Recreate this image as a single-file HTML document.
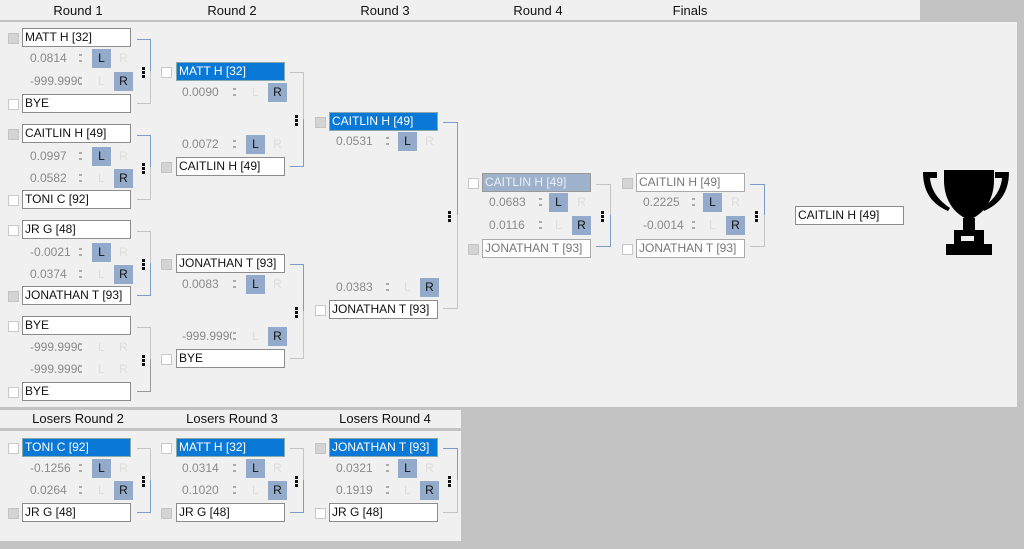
<!DOCTYPE html>
<html><head><meta charset="utf-8"><style>
*{box-sizing:border-box;margin:0;padding:0}
body{width:1024px;height:549px;background:#c3c3c3;position:relative;overflow:hidden;font-family:"Liberation Sans",sans-serif}
div{position:absolute}
.pnl{background:#f0f0f0}
.h{font-size:13px;color:#111;text-align:center;width:140px;top:3px}
.n{width:109px;height:19px;border:1px solid #8c8c8c;background:#fff;font-size:12px;line-height:17px;padding-left:2px;color:#111;white-space:nowrap;overflow:hidden}
.s{background:#0a78d7;color:#fff;border-color:#8aa;}
.m{background:#9fb2cc;color:#e8eef6;border-color:#999}
.g{border-color:#aaa;color:#777}
.c{width:11px;height:11px;border:1px solid #c8c8c8;background:#fff}
.k{background:#d4d4d4;border-color:#c4c4c4}
.v{font-size:12px;color:#8a8a8a;width:50px;white-space:nowrap;overflow:hidden}
.sp{width:4px;height:12px}
.sp:before,.sp:after{content:"";position:absolute;left:0;width:3px;height:2px;background:#aaa}
.sp:before{top:2px}.sp:after{top:8px}
.b{width:19px;height:19px;background:#93aacb;font-size:12px;line-height:19px;text-align:center;color:#111}
.d{width:19px;height:19px;font-size:12px;line-height:19px;text-align:center;color:#ddd}
.bt{border:1.5px solid #7f9cc8;border-left:none;border-bottom:none}
.bb{border:1.5px solid #c4c4c4;border-left:none;border-top:none}
.bt2{border:1.5px solid #c4c4c4;border-left:none;border-bottom:none}
.bb2{border:1.5px solid #7f9cc8;border-left:none;border-top:none}
.dt{width:3px;height:3px;background:#111;box-shadow:0 4px 0 #111,0 8px 0 #111}
</style></head><body>
<div class="pnl" style="left:0;top:0;width:920px;height:20px"></div>
<div class="h" style="left:8px">Round 1</div>
<div class="h" style="left:162px">Round 2</div>
<div class="h" style="left:315px">Round 3</div>
<div class="h" style="left:468px">Round 4</div>
<div class="h" style="left:620px">Finals</div>
<div class="pnl" style="left:0;top:22px;width:1017px;height:385px"></div>
<div class="pnl" style="left:0;top:410px;width:461px;height:18px"></div>
<div class="h" style="left:8px;top:411px">Losers Round 2</div>
<div class="h" style="left:162px;top:411px">Losers Round 3</div>
<div class="h" style="left:315px;top:411px">Losers Round 4</div>
<div class="pnl" style="left:0;top:431px;width:461px;height:110px"></div>

<!-- R1 M1 -->
<div class="c k" style="left:8px;top:33px"></div><div class="n" style="left:22px;top:28px">MATT H [32]</div>
<div class="v" style="left:30px;top:51px">0.0814</div><div class="sp" style="left:79px;top:52px"></div><div class="b" style="left:92px;top:49px">L</div><div class="d" style="left:114px;top:49px">R</div>
<div class="v" style="left:30px;top:74px">-999.9990</div><div class="sp" style="left:79px;top:75px"></div><div class="d" style="left:92px;top:72px">L</div><div class="b" style="left:114px;top:72px">R</div>
<div class="c" style="left:8px;top:99px"></div><div class="n" style="left:22px;top:94px">BYE</div>
<div class="bt" style="left:137px;top:39px;width:14px;height:33px"></div><div class="bb" style="left:137px;top:71px;width:14px;height:33px"></div><div class="dt" style="left:142px;top:67px"></div>
<!-- R1 M2 -->
<div class="c k" style="left:8px;top:129px"></div><div class="n" style="left:22px;top:124px">CAITLIN H [49]</div>
<div class="v" style="left:30px;top:149px">0.0997</div><div class="sp" style="left:79px;top:150px"></div><div class="b" style="left:92px;top:147px">L</div><div class="d" style="left:114px;top:147px">R</div>
<div class="v" style="left:30px;top:171px">0.0582</div><div class="sp" style="left:79px;top:172px"></div><div class="d" style="left:92px;top:169px">L</div><div class="b" style="left:114px;top:169px">R</div>
<div class="c" style="left:8px;top:195px"></div><div class="n" style="left:22px;top:190px">TONI C [92]</div>
<div class="bt" style="left:137px;top:135px;width:14px;height:33px"></div><div class="bb" style="left:137px;top:167px;width:14px;height:33px"></div><div class="dt" style="left:142px;top:163px"></div>
<!-- R1 M3 -->
<div class="c" style="left:8px;top:225px"></div><div class="n" style="left:22px;top:220px">JR G [48]</div>
<div class="v" style="left:30px;top:245px">-0.0021</div><div class="sp" style="left:79px;top:246px"></div><div class="b" style="left:92px;top:243px">L</div><div class="d" style="left:114px;top:243px">R</div>
<div class="v" style="left:30px;top:267px">0.0374</div><div class="sp" style="left:79px;top:268px"></div><div class="d" style="left:92px;top:265px">L</div><div class="b" style="left:114px;top:265px">R</div>
<div class="c k" style="left:8px;top:291px"></div><div class="n" style="left:22px;top:286px">JONATHAN T [93]</div>
<div class="bt2" style="left:137px;top:231px;width:14px;height:33px"></div><div class="bb2" style="left:137px;top:263px;width:14px;height:33px"></div><div class="dt" style="left:142px;top:259px"></div>
<!-- R1 M4 -->
<div class="c" style="left:8px;top:321px"></div><div class="n" style="left:22px;top:316px">BYE</div>
<div class="v" style="left:30px;top:340px">-999.9990</div><div class="sp" style="left:79px;top:341px"></div><div class="d" style="left:92px;top:338px">L</div><div class="d" style="left:114px;top:338px">R</div>
<div class="v" style="left:30px;top:362px">-999.9990</div><div class="sp" style="left:79px;top:363px"></div><div class="d" style="left:92px;top:360px">L</div><div class="d" style="left:114px;top:360px">R</div>
<div class="c" style="left:8px;top:387px"></div><div class="n" style="left:22px;top:382px">BYE</div>
<div class="bt2" style="left:137px;top:327px;width:14px;height:33px"></div><div class="bb" style="left:137px;top:359px;width:14px;height:33px;border-color:#999"></div><div class="dt" style="left:142px;top:355px"></div>

<!-- R2 M1 -->
<div class="c" style="left:161px;top:67px"></div><div class="n s" style="left:176px;top:62px">MATT H [32]</div>
<div class="v" style="left:182px;top:85px">0.0090</div><div class="sp" style="left:233px;top:86px"></div><div class="d" style="left:246px;top:83px">L</div><div class="b" style="left:268px;top:83px">R</div>
<div class="v" style="left:182px;top:137px">0.0072</div><div class="sp" style="left:233px;top:138px"></div><div class="b" style="left:246px;top:135px">L</div><div class="d" style="left:268px;top:135px">R</div>
<div class="c k" style="left:161px;top:162px"></div><div class="n" style="left:176px;top:157px">CAITLIN H [49]</div>
<div class="bt2" style="left:290px;top:72px;width:14px;height:48px"></div><div class="bb2" style="left:290px;top:119px;width:14px;height:48px"></div><div class="dt" style="left:295px;top:115px"></div>
<!-- R2 M2 -->
<div class="c k" style="left:161px;top:259px"></div><div class="n" style="left:176px;top:254px">JONATHAN T [93]</div>
<div class="v" style="left:182px;top:277px">0.0083</div><div class="sp" style="left:233px;top:278px"></div><div class="b" style="left:246px;top:275px">L</div><div class="d" style="left:268px;top:275px">R</div>
<div class="v" style="left:182px;top:329px">-999.9990</div><div class="sp" style="left:233px;top:330px"></div><div class="d" style="left:246px;top:327px">L</div><div class="b" style="left:268px;top:327px">R</div>
<div class="c" style="left:161px;top:354px"></div><div class="n" style="left:176px;top:349px">BYE</div>
<div class="bt" style="left:290px;top:264px;width:14px;height:48px"></div><div class="bb" style="left:290px;top:311px;width:14px;height:48px"></div><div class="dt" style="left:295px;top:307px"></div>

<!-- R3 -->
<div class="c k" style="left:315px;top:117px"></div><div class="n s" style="left:329px;top:112px">CAITLIN H [49]</div>
<div class="v" style="left:336px;top:134px">0.0531</div><div class="sp" style="left:386px;top:135px"></div><div class="b" style="left:398px;top:132px">L</div><div class="d" style="left:420px;top:132px">R</div>
<div class="v" style="left:336px;top:280px">0.0383</div><div class="sp" style="left:386px;top:281px"></div><div class="d" style="left:398px;top:278px">L</div><div class="b" style="left:420px;top:278px">R</div>
<div class="c" style="left:315px;top:305px"></div><div class="n" style="left:329px;top:300px">JONATHAN T [93]</div>
<div class="bt" style="left:443px;top:122px;width:15px;height:94px"></div><div class="bb" style="left:443px;top:215px;width:15px;height:94px"></div><div class="dt" style="left:448px;top:211px"></div>

<!-- R4 -->
<div class="c" style="left:468px;top:178px"></div><div class="n m" style="left:482px;top:173px">CAITLIN H [49]</div>
<div class="v" style="left:489px;top:195px">0.0683</div><div class="sp" style="left:539px;top:196px"></div><div class="b" style="left:549px;top:193px">L</div><div class="d" style="left:572px;top:193px">R</div>
<div class="v" style="left:489px;top:218px">0.0116</div><div class="sp" style="left:539px;top:219px"></div><div class="d" style="left:549px;top:216px">L</div><div class="b" style="left:572px;top:216px">R</div>
<div class="c k" style="left:468px;top:244px"></div><div class="n g" style="left:482px;top:239px">JONATHAN T [93]</div>
<div class="bt2" style="left:596px;top:184px;width:15px;height:32px"></div><div class="bb2" style="left:596px;top:215px;width:15px;height:32px"></div><div class="dt" style="left:601px;top:211px"></div>

<!-- Finals -->
<div class="c k" style="left:622px;top:178px"></div><div class="n g" style="left:636px;top:173px">CAITLIN H [49]</div>
<div class="v" style="left:643px;top:195px">0.2225</div><div class="sp" style="left:692px;top:196px"></div><div class="b" style="left:703px;top:193px">L</div><div class="d" style="left:726px;top:193px">R</div>
<div class="v" style="left:643px;top:218px">-0.0014</div><div class="sp" style="left:692px;top:219px"></div><div class="d" style="left:703px;top:216px">L</div><div class="b" style="left:726px;top:216px">R</div>
<div class="c" style="left:622px;top:244px"></div><div class="n g" style="left:636px;top:239px">JONATHAN T [93]</div>
<div class="bt" style="left:750px;top:184px;width:15px;height:32px"></div><div class="bb" style="left:750px;top:215px;width:15px;height:32px"></div><div class="dt" style="left:755px;top:211px"></div>
<div class="n" style="left:795px;top:206px">CAITLIN H [49]</div>

<svg style="position:absolute;left:920px;top:166px" width="92" height="92" viewBox="0 0 92 92">
<path d="M24 4h50v10c0 20-10 34-25 40C34 48 24 34 24 14z" fill="#000"/>
<path d="M3 6h14v6h-7c1 12 8 22 20 30l-2 3C12 38 3 26 3 6z" fill="#000"/>
<path d="M89 6H75v6h7c-1 12-8 22-20 30l2 3C80 38 89 26 89 6z" fill="#000"/>
<rect x="43" y="52" width="12" height="14" fill="#000"/>
<rect x="34" y="64" width="30" height="16" fill="#000"/>
<rect x="26" y="78" width="46" height="11" fill="#000"/>
<rect x="41" y="70" width="13" height="5" fill="#f0f0f0"/>
</svg>

<!-- Losers R2 -->
<div class="c" style="left:8px;top:443px"></div><div class="n s" style="left:22px;top:438px">TONI C [92]</div>
<div class="v" style="left:30px;top:461px">-0.1256</div><div class="sp" style="left:79px;top:462px"></div><div class="b" style="left:92px;top:459px">L</div><div class="d" style="left:114px;top:459px">R</div>
<div class="v" style="left:30px;top:483px">0.0264</div><div class="sp" style="left:79px;top:484px"></div><div class="d" style="left:92px;top:481px">L</div><div class="b" style="left:114px;top:481px">R</div>
<div class="c k" style="left:8px;top:508px"></div><div class="n" style="left:22px;top:503px">JR G [48]</div>
<div class="bt2" style="left:137px;top:448px;width:14px;height:33px"></div><div class="bb2" style="left:137px;top:480px;width:14px;height:33px"></div><div class="dt" style="left:142px;top:476px"></div>
<!-- Losers R3 -->
<div class="c" style="left:161px;top:443px"></div><div class="n s" style="left:176px;top:438px">MATT H [32]</div>
<div class="v" style="left:182px;top:461px">0.0314</div><div class="sp" style="left:233px;top:462px"></div><div class="b" style="left:246px;top:459px">L</div><div class="d" style="left:268px;top:459px">R</div>
<div class="v" style="left:182px;top:483px">0.1020</div><div class="sp" style="left:233px;top:484px"></div><div class="d" style="left:246px;top:481px">L</div><div class="b" style="left:268px;top:481px">R</div>
<div class="c k" style="left:161px;top:508px"></div><div class="n" style="left:176px;top:503px">JR G [48]</div>
<div class="bt2" style="left:290px;top:448px;width:14px;height:33px"></div><div class="bb2" style="left:290px;top:480px;width:14px;height:33px"></div><div class="dt" style="left:295px;top:476px"></div>
<!-- Losers R4 -->
<div class="c k" style="left:315px;top:443px"></div><div class="n s" style="left:329px;top:438px">JONATHAN T [93]</div>
<div class="v" style="left:336px;top:461px">0.0321</div><div class="sp" style="left:386px;top:462px"></div><div class="b" style="left:398px;top:459px">L</div><div class="d" style="left:420px;top:459px">R</div>
<div class="v" style="left:336px;top:483px">0.1919</div><div class="sp" style="left:386px;top:484px"></div><div class="d" style="left:398px;top:481px">L</div><div class="b" style="left:420px;top:481px">R</div>
<div class="c" style="left:315px;top:508px"></div><div class="n" style="left:329px;top:503px">JR G [48]</div>
<div class="bt" style="left:443px;top:448px;width:15px;height:33px"></div><div class="bb" style="left:443px;top:480px;width:15px;height:33px"></div><div class="dt" style="left:448px;top:476px"></div>
</body></html>
